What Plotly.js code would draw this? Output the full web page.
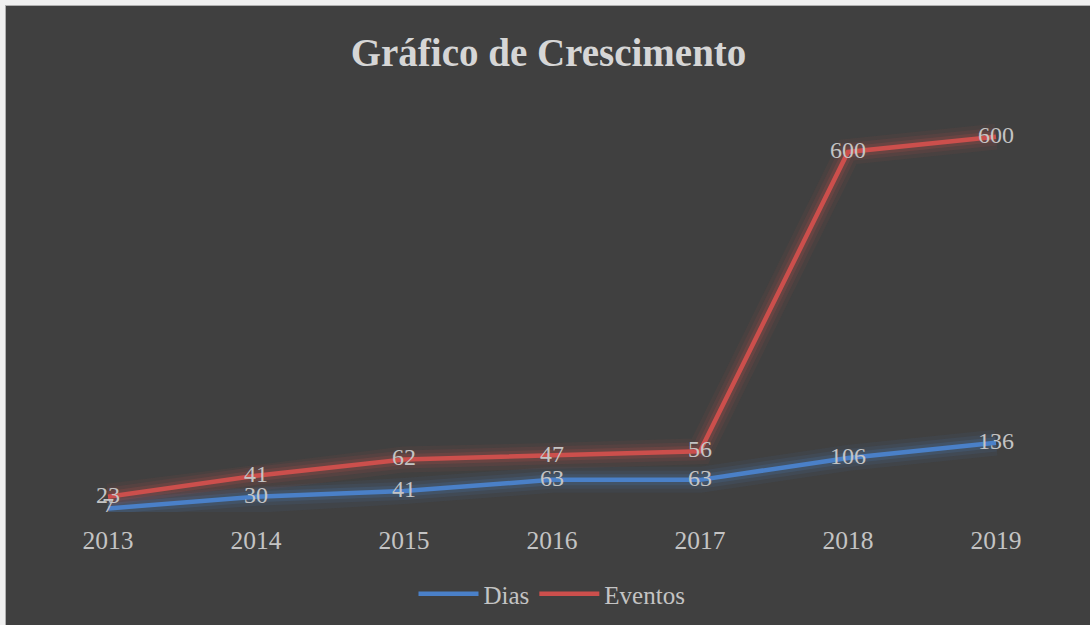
<!DOCTYPE html>
<html>
<head>
<meta charset="utf-8">
<script src="https://cdn.plot.ly/plotly-3.0.1.min.js"></script>
<style>
html,body{margin:0;padding:0;background:#f0f0f0;width:1090px;height:625px;overflow:hidden;}
#chart{position:absolute;left:5px;top:5px;width:1085px;height:620px;border-left:1px solid #b0b0b0;border-top:1px solid #b0b0b0;}
</style>
</head>
<body>
<div id="chart"></div>
<script>
const years = ['2013','2014','2015','2016','2017','2018','2019'];
const dias = [7, 30, 41, 63, 63, 106, 136];
const eventos = [23, 41, 62, 47, 56, 600, 600];

const blue = '#4a80c8';
const red = '#cc4f4c';
const txt = '#c4c4c4';
const serif = 'Liberation Serif, Times New Roman, serif';

function glow(y, color, w, op, grp){
  return {x: years, y: y, type:'scatter', mode:'lines', stackgroup: grp, fill:'none',
    line:{color: color, width: w, shape:'linear'}, opacity: op, hoverinfo:'skip', showlegend:false};
}

const traces = [];
[[26,0.07,'g1'],[18,0.1,'g2'],[11,0.16,'g3']].forEach(function(g){
  traces.push(glow(dias, blue, g[0], g[1], g[2]));
  traces.push(glow(eventos, red, g[0], g[1], g[2]));
});
traces.push({x: years, y: dias, name:'Dias', type:'scatter', mode:'lines+text', stackgroup:'main', fill:'none',
  line:{color: blue, width: 4.5}, text: dias.map(String), texttemplate:'%{text}', textposition:'middle center',
  textfont:{family: serif, size: 24, color: txt}, hoverinfo:'skip'});
traces.push({x: years, y: eventos, name:'Eventos', type:'scatter', mode:'lines+text', stackgroup:'main', fill:'none',
  line:{color: red, width: 4.5}, text: eventos.map(String), texttemplate:'%{text}', textposition:'middle center',
  textfont:{family: serif, size: 24, color: txt}, hoverinfo:'skip'});

const layout = {
  width:1085, height:620,
  paper_bgcolor:'#404040', plot_bgcolor:'#404040',
  margin:{l:28, r:21, t:98, b:114},
  title:{text:'<b>Gráfico de Crescimento</b>', font:{family: serif, size: 39, color:'#d6d6d6'},
    x:0.5, xanchor:'center', yref:'container', y:1-46/620, yanchor:'middle'},
  xaxis:{type:'category', range:[-0.5,6.5], showgrid:false, zeroline:false, showline:false, ticks:'',
    tickfont:{family: serif, size: 25.5, color: txt}, ticklabelstandoff:10, fixedrange:true},
  yaxis:{range:[0,800], showgrid:false, zeroline:false, showline:false, showticklabels:false, ticks:'', fixedrange:true},
  showlegend:true,
  legend:{orientation:'h', x:0.5, xanchor:'center', yref:'container', y:1-588/620, yanchor:'middle',
    font:{family: serif, size: 25, color: txt}, bgcolor:'rgba(0,0,0,0)', itemwidth:60, traceorder:'normal'}
};
Plotly.newPlot('chart', traces, layout, {staticPlot:true, displayModeBar:false});
</script>
</body>
</html>
